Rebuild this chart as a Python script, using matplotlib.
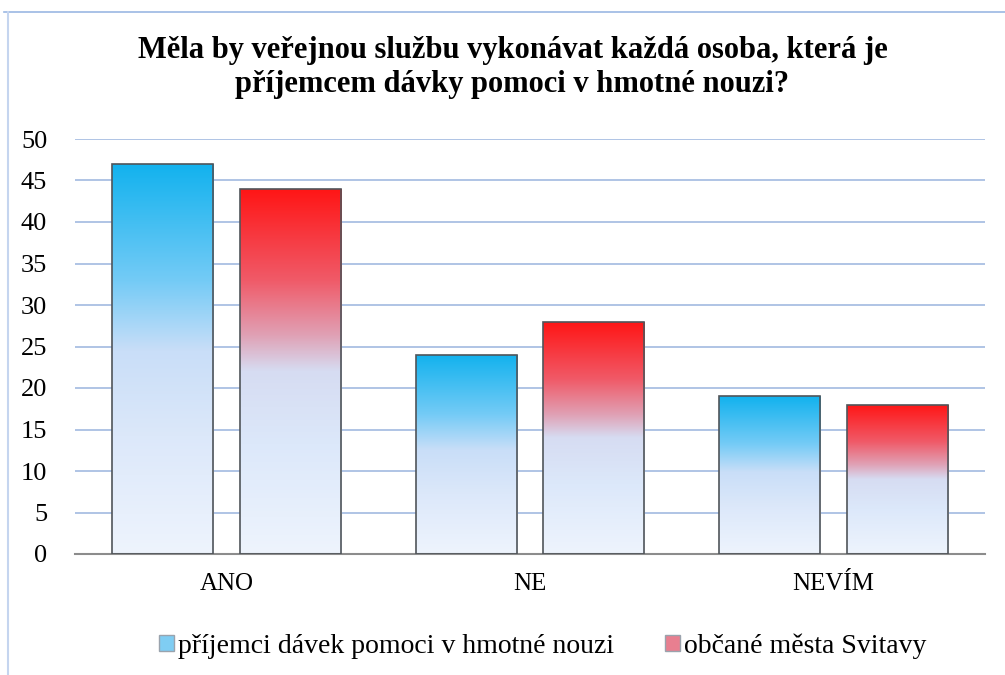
import numpy as np
import matplotlib.pyplot as plt
from matplotlib.colors import LinearSegmentedColormap
from matplotlib.patches import Patch
from matplotlib.lines import Line2D

plt.rcParams['font.family'] = 'serif'
plt.rcParams['font.serif'] = ['Liberation Serif']

categories = ['ANO', 'NE', 'NEVÍM']
prijemci = [47, 24, 19]
obcane = [44, 28, 18]
series_names = ['příjemci dávek pomoci v hmotné nouzi', 'občané města Svitavy']

# gradient: bottom -> top
blue_cm = LinearSegmentedColormap.from_list('b', [
    (0.0, '#eef4fd'), (0.3, '#dce8fa'), (0.52, '#c9def8'),
    (0.7, '#74cbf6'), (1.0, '#12b2ee')])
red_cm = LinearSegmentedColormap.from_list('r', [
    (0.0, '#eef4fd'), (0.3, '#dce8fa'), (0.5, '#d6dcf2'),
    (0.6, '#e0a0b4'), (0.75, '#f05a68'), (1.0, '#ff1515')])

fig = plt.figure(figsize=(10.05, 6.75), dpi=100)
ax = fig.add_axes([75/1005, (675-554)/675, (985-75)/1005, (554-139)/675])

x = np.arange(len(categories))
w = 0.333
off = 0.21
grad = np.linspace(0, 1, 256).reshape(-1, 1)

for vals, dx, cm in [(prijemci, -off, blue_cm), (obcane, off, red_cm)]:
    bars = ax.bar(x + dx, vals, w, facecolor='none', edgecolor='#50555a',
                  linewidth=1.2, zorder=3)
    for b in bars:
        x0, y0 = b.get_x(), b.get_y()
        im = ax.imshow(grad, cmap=cm, origin='lower', aspect='auto',
                       extent=[x0, x0 + b.get_width(), y0, y0 + b.get_height()],
                       zorder=2)
        im.set_clip_path(b)

ax.set_xlim(-0.5, 2.5)
ax.set_ylim(0, 50)
ax.set_yticks(range(0, 51, 5))
ax.set_xticks(x)
ax.set_xticklabels(categories)
ax.yaxis.grid(True, color='#a9bfe3', linewidth=1.3)
ax.set_axisbelow(True)
for s in ['top', 'right', 'left']:
    ax.spines[s].set_visible(False)
ax.spines['bottom'].set_color('#8c8c8c')
ax.spines['bottom'].set_linewidth(1.5)
ax.tick_params(axis='y', length=0, labelsize=19, pad=20)
ax.tick_params(axis='x', length=0, labelsize=18, pad=14)

fig.text(0.51, 0.9, 'Měla by veřejnou službu vykonávat každá osoba, která je\n'
         'příjemcem dávky pomoci v hmotné nouzi?', ha='center', va='center',
         fontsize=22, fontweight='bold', linespacing=1.25)

handles = [Patch(facecolor='#7fcdf3', edgecolor='#9aa3ad'),
           Patch(facecolor='#e87f90', edgecolor='#9aa3ad')]
fig.legend(handles, series_names, loc='center', bbox_to_anchor=(0.54, 0.043),
           ncol=2, frameon=False, fontsize=20, handlelength=0.55, handleheight=0.55,
           handletextpad=0.15, columnspacing=1.8)

# chart border (top and left visible)
fig.add_artist(Line2D([4/1005, 1], [1-12/675, 1-12/675], color='#9bb8e3', lw=1.2))
fig.add_artist(Line2D([8/1005, 8/1005], [0, 1-12/675], color='#c5d5ef', lw=1.5))

fig.savefig('out.png', dpi=100)
